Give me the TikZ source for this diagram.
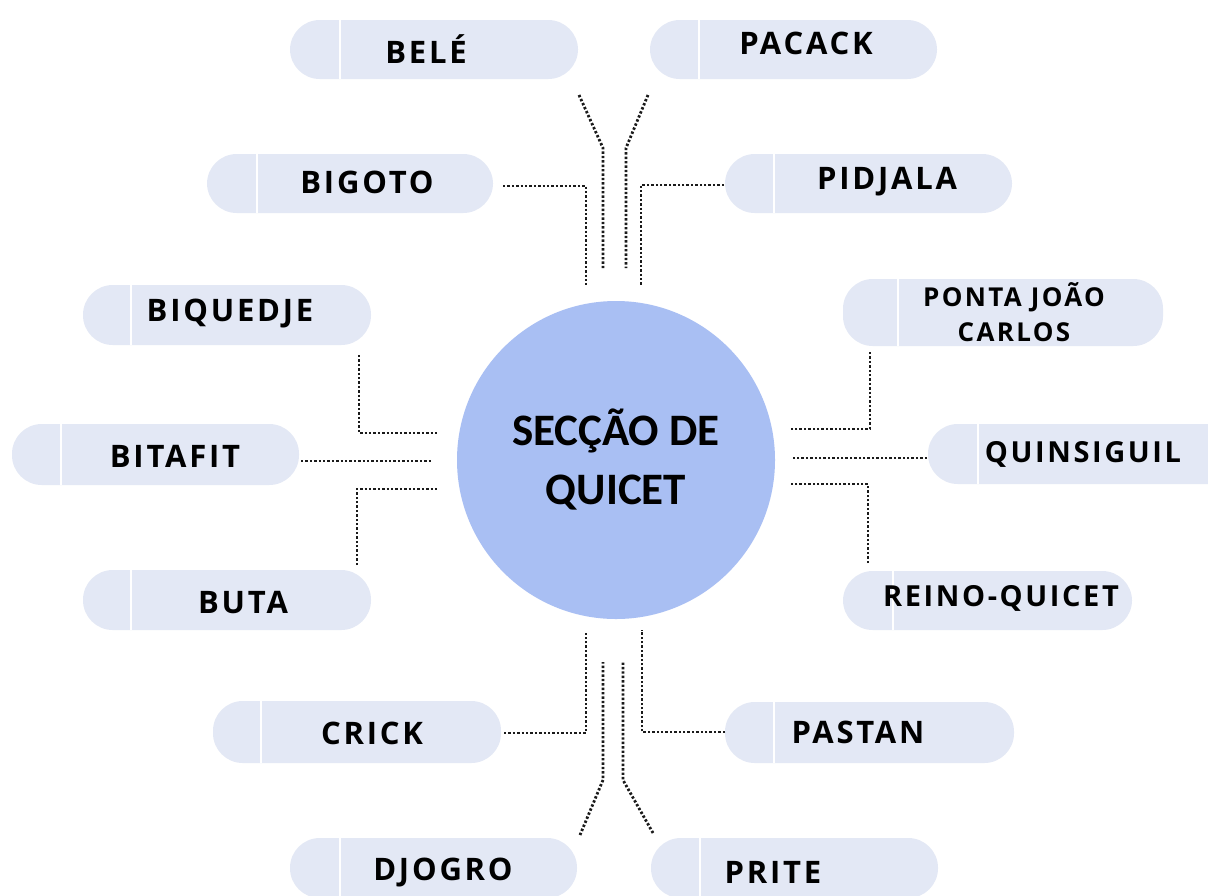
\documentclass[tikz,border=0pt]{standalone}
\usepackage{fontspec}
\setmainfont{Open Sans}
\newfontfamily\pillfont[LetterSpace=9]{Open Sans Bold}
\newfontfamily\centerfont{Carlito}
\definecolor{pillc}{HTML}{E3E8F5}
\definecolor{circc}{HTML}{A9BFF3}
\definecolor{dotc}{HTML}{1A1A1A}
\tikzset{
  pill/.style={draw=none, fill=pillc, rounded corners=14.9pt, inner sep=0pt},
  divider/.style={draw=white, line width=1pt},
  lbl/.style={font=\pillfont\fontsize{15.5pt}{18pt}\selectfont, text=black, inner sep=0pt, anchor=center},
  lblsmall/.style={font=\pillfont\fontsize{14.5pt}{17pt}\selectfont, text=black, inner sep=0pt},
  lbltwo/.style={font=\pillfont\fontsize{13pt}{17.5pt}\selectfont, text=black, inner sep=0pt, align=center},
  conn/.style={draw=dotc, line width=1.4pt, dash pattern=on 1.2pt off 1pt},
  hub/.style={circle, fill=circc, draw=none, minimum size=159pt, inner sep=0pt},
}
\newcommand\mypill[6]{%
  \node[pill, minimum width={(#3-#2)*0.5pt}, minimum height={(#5-#4)*0.5pt}] (#1) at ({(#2+#3)/2},{(#4+#5)/2}) {};
  \draw[divider] (#6,#4) -- (#6,#5);
}
\begin{document}
\begin{tikzpicture}[x=0.5pt, y=-0.5pt]
\path[use as bounding box] (0,0) rectangle (1208,895);
\clip (0,0) rectangle (1208,895);
\fill[white] (0,0) rectangle (1208,895);

% hub
\node[hub] (hub) at (616,460) {};
\node[font=\centerfont\bfseries\fontsize{22.5pt}{29.5pt}\selectfont, align=center, inner sep=0pt] (hubtext) at (616,459) {SECÇÃO DE\\QUICET};

% pills
\mypill{bele}{290}{578}{20}{79}{340}
\mypill{pacack}{650}{937}{20}{79}{699}
\mypill{bigoto}{207}{493}{154}{213}{257}
\mypill{pidjala}{725}{1012}{154}{213}{774}
\mypill{biquedje}{83}{371}{285}{345}{131}
\mypill{ponta}{843}{1163}{279}{346}{898}
\mypill{bitafit}{12}{299}{424}{485}{61}
\mypill{quinsiguil}{928}{1240}{424}{484}{978}
\mypill{buta}{83}{371}{570}{630}{131}
\mypill{reino}{843}{1132}{571}{630}{893}
\mypill{crick}{213}{501}{701}{763}{261}
\mypill{pastan}{725}{1014}{702}{763}{774}
\mypill{djogro}{290}{577}{838}{898}{340}
\mypill{prite}{651}{938}{838}{898}{700}

% labels
\node[lbl] (tbele) at (426,49) {BELÉ};
\node[lbl] (tpacack) at (806,43) {PACACK};
\node[lbl] (tbigoto) at (367,182) {BIGOTO};
\node[lbl] (tpidjala) at (887,182) {PIDJALA};
\node[lbl] (tbiquedje) at (230,314) {BIQUEDJE};
\node[lbltwo] (tponta) at (1014,312) {PONTA JOÃO\\CARLOS};
\node[lbl] (tbitafit) at (175,456) {BITAFIT};
\node[lblsmall] (tquinsiguil) at (1083,454) {QUINSIGUIL};
\node[lbl] (tbuta) at (243,603) {BUTA};
\node[lblsmall] (treino) at (1001,598) {REINO-QUICET};
\node[lbl] (tcrick) at (372,733) {CRICK};
\node[lbl] (tpastan) at (858,732) {PASTAN};
\node[lbl] (tdjogro) at (443,872) {DJOGRO};
\node[lbl] (tprite) at (773,872) {PRITE};

% connector end points
\coordinate (c1a) at (579,95);  \coordinate (c1b) at (603,148); \coordinate (c1c) at (603,268);
\coordinate (c2a) at (648,95);  \coordinate (c2b) at (626,148); \coordinate (c2c) at (626,268);
\coordinate (c3a) at (503,186); \coordinate (c3b) at (586,186); \coordinate (c3c) at (586,285);
\coordinate (c4a) at (724,185); \coordinate (c4b) at (641,185); \coordinate (c4c) at (641,285);
\coordinate (c5a) at (359,355); \coordinate (c5b) at (359,433); \coordinate (c5c) at (438,433);
\coordinate (c6a) at (301,461); \coordinate (c6b) at (433,461);
\coordinate (c7a) at (357,565); \coordinate (c7b) at (357,489); \coordinate (c7c) at (437,489);
\coordinate (c8a) at (870,352); \coordinate (c8b) at (870,429); \coordinate (c8c) at (790,429);
\coordinate (c9a) at (927,458); \coordinate (c9b) at (793,458);
\coordinate (c10a) at (868,563); \coordinate (c10b) at (868,484); \coordinate (c10c) at (790,484);
\coordinate (c11a) at (504,733); \coordinate (c11b) at (586,733); \coordinate (c11c) at (586,633);
\coordinate (c12a) at (725,732); \coordinate (c12b) at (642,732); \coordinate (c12c) at (642,630);
\coordinate (c13a) at (580,835); \coordinate (c13b) at (603,780); \coordinate (c13c) at (603,662);
\coordinate (c14a) at (653,833); \coordinate (c14b) at (623,780); \coordinate (c14c) at (623,662);

% connectors
\draw[conn] (c1a) -- (c1b) -- (c1c);
\draw[conn] (c2a) -- (c2b) -- (c2c);
\draw[conn] (c3a) -- (c3b) -- (c3c);
\draw[conn] (c4a) -- (c4b) -- (c4c);
\draw[conn] (c5a) -- (c5b) -- (c5c);
\draw[conn] (c6a) -- (c6b);
\draw[conn] (c7a) -- (c7b) -- (c7c);
\draw[conn] (c8a) -- (c8b) -- (c8c);
\draw[conn] (c9a) -- (c9b);
\draw[conn] (c10a) -- (c10b) -- (c10c);
\draw[conn] (c11a) -- (c11b) -- (c11c);
\draw[conn] (c12a) -- (c12b) -- (c12c);
\draw[conn] (c13a) -- (c13b) -- (c13c);
\draw[conn] (c14a) -- (c14b) -- (c14c);
\end{tikzpicture}
\end{document}
